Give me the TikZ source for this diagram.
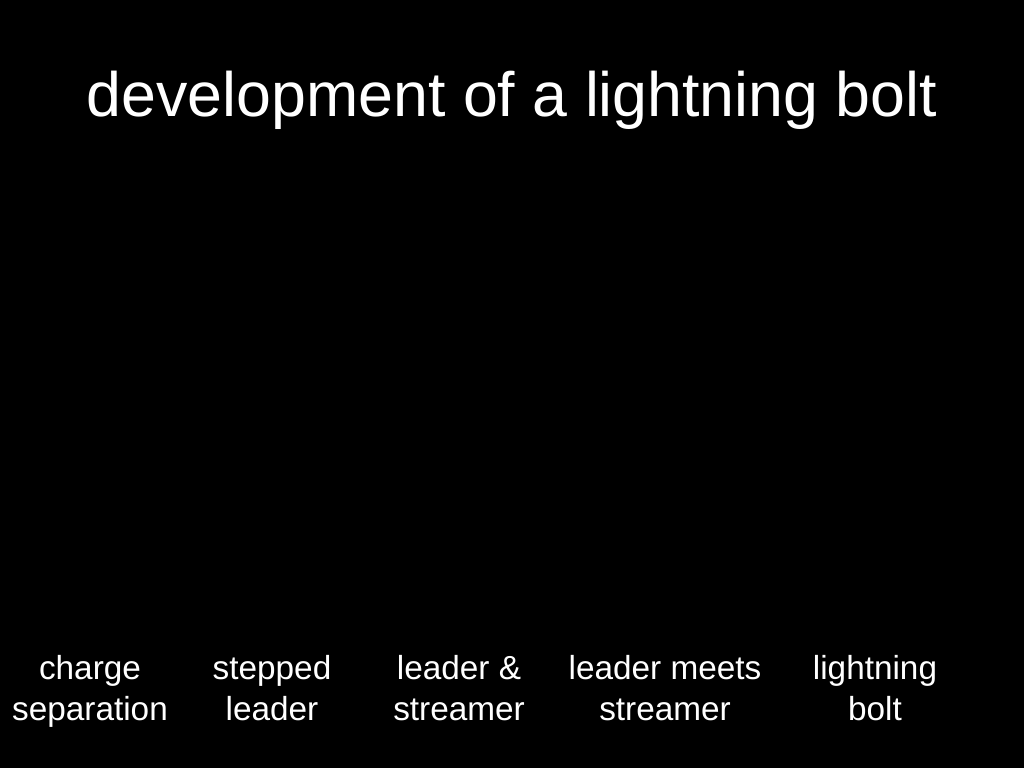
\documentclass[tikz,border=0pt]{standalone}
\usepackage{fontspec}
\setmainfont{Liberation Sans}
\usetikzlibrary{positioning}
\tikzset{stage/.style={text=white, align=center, font=\fontsize{25}{30.5}\selectfont}}
\begin{document}
\begin{tikzpicture}[x=0.75pt,y=-0.75pt]
  \fill[black] (0,0) rectangle (1024,768);
  \node[text=white, font=\fontsize{47}{54}\selectfont] (title) at (512,100) {development of a lightning bolt};
  \node[stage] (charge) at (90,692) {\strut charge\\\strut separation};
  \node[stage] (stepped) at (272,692) {\strut stepped\\\strut leader};
  \node[stage] (streamer) at (459,692) {\strut leader \&\\\strut streamer};
  \node[stage] (meets) at (665,692) {\strut leader meets\\\strut streamer};
  \node[stage] (bolt) at (875,692) {\strut lightning\\\strut bolt};
\end{tikzpicture}
\end{document}
